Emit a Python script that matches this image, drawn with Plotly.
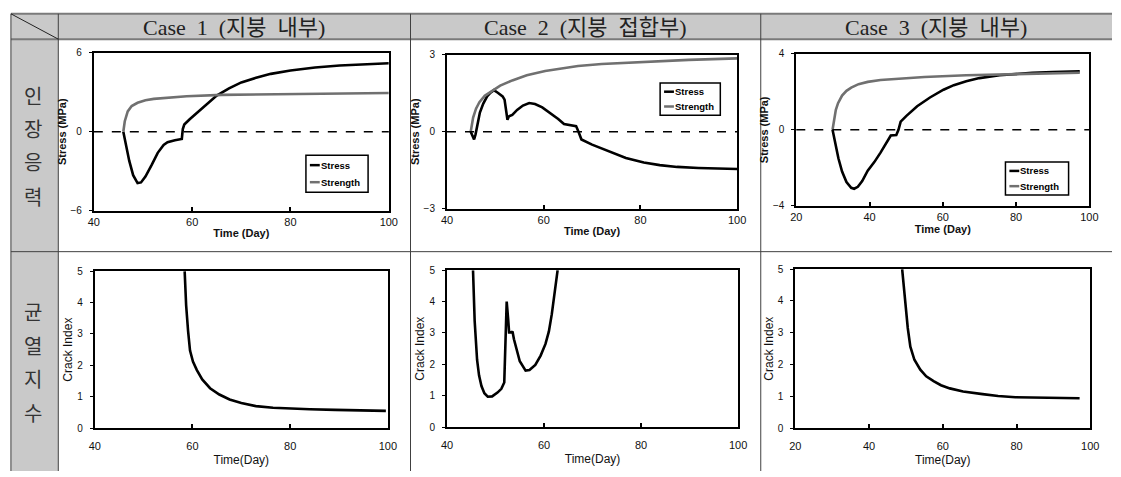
import plotly.graph_objects as go

W, H = 1121, 477

# ---------------- data ----------------
NB = "\u00a0"
case_titles = [f"Case{NB}{NB}1{NB}{NB}(지붕{NB}{NB}내부)",
               f"Case{NB}{NB}2{NB}{NB}(지붕{NB}{NB}접합부)",
               f"Case{NB}{NB}3{NB}{NB}(지붕{NB}{NB}내부)"]
row_labels = ["인장응력", "균열지수"]

c1_stress_day = [46.0, 46.5, 47.2, 48.0, 48.9, 49.6, 50.5, 51.8, 53.0, 54.2, 55.0, 56.5, 57.9, 58.1, 58.4,
                 59.5, 61.0, 63.0, 65.0, 67.5, 70.0, 73.0, 76.0, 80.0, 85.0, 90.0, 95.0, 100.0]
c1_stress_val = [0.0, -0.9, -2.2, -3.3, -3.9, -3.85, -3.4, -2.5, -1.6, -1.0, -0.8, -0.65, -0.55, 0.2, 0.55,
                 0.95, 1.45, 2.15, 2.75, 3.3, 3.75, 4.1, 4.4, 4.65, 4.88, 5.03, 5.14, 5.21]
c1_strength_day = [46.0, 46.3, 46.9, 47.7, 48.9, 50.5, 52.2, 55.0, 58.9, 66.0, 75.0, 85.0, 100.0]
c1_strength_val = [0.0, 0.8, 1.55, 1.95, 2.2, 2.4, 2.5, 2.6, 2.7, 2.8, 2.85, 2.9, 2.94]

c2_stress_day = [44.9, 45.3, 45.6, 45.9, 46.3, 46.8, 47.5, 48.3, 49.0, 49.7, 50.5, 51.5, 51.9, 52.2, 52.5,
                 52.8, 53.5, 54.5, 55.7, 57.0, 58.2, 59.7, 61.5, 63.0, 64.2, 65.5, 66.7, 67.2, 67.8, 70.0,
                 73.9, 77.0, 80.7, 84.0, 87.6, 92.0, 100.0]
c2_stress_val = [0.0, -0.2, -0.3, -0.1, 0.35, 0.75, 1.1, 1.38, 1.52, 1.62, 1.52, 1.38, 1.25, 0.9, 0.47,
                 0.6, 0.66, 0.85, 1.02, 1.12, 1.08, 0.95, 0.72, 0.5, 0.3, 0.25, 0.22, 0.0, -0.3, -0.5,
                 -0.8, -1.02, -1.2, -1.3, -1.37, -1.41, -1.45]
c2_strength_day = [44.9, 45.4, 46.0, 46.7, 47.8, 49.4, 51.0, 53.5, 56.5, 60.3, 64.0, 67.1, 72.0, 80.7, 90.0, 100.0]
c2_strength_val = [0.0, 0.55, 0.9, 1.15, 1.4, 1.6, 1.8, 2.0, 2.2, 2.37, 2.48, 2.56, 2.64, 2.73, 2.8, 2.86]

c3_stress_day = [29.9, 30.5, 31.5, 32.5, 33.7, 35.0, 35.8, 36.8, 38.0, 39.5, 41.3, 43.0, 44.5, 45.8, 47.3,
                 47.9, 48.5, 50.0, 53.0, 56.5, 60.2, 63.0, 66.4, 70.0, 75.5, 80.0, 84.4, 90.0, 97.4]
c3_stress_val = [0.0, -0.6, -1.5, -2.2, -2.75, -3.05, -3.1, -3.0, -2.7, -2.15, -1.7, -1.2, -0.75, -0.3, -0.27,
                 0.0, 0.43, 0.72, 1.24, 1.7, 2.11, 2.35, 2.55, 2.72, 2.87, 2.95, 3.0, 3.04, 3.08]
c3_strength_day = [29.9, 30.3, 30.8, 31.4, 32.5, 33.7, 35.0, 37.0, 39.5, 43.0, 48.5, 55.0, 66.4, 80.0, 97.4]
c3_strength_val = [0.0, 0.6, 1.05, 1.4, 1.8, 2.05, 2.22, 2.4, 2.52, 2.62, 2.71, 2.78, 2.87, 2.94, 3.0]

c1_crack_day = [58.4, 58.7, 59.1, 59.5, 60.1, 60.9, 62.0, 63.6, 65.5, 67.6, 70.0, 73.0, 76.5, 79.7,
                84.0, 89.2, 95.0, 99.6]
c1_crack_val = [5.0, 3.92, 3.1, 2.47, 2.12, 1.85, 1.55, 1.27, 1.07, 0.91, 0.8, 0.7, 0.65, 0.62,
                0.6, 0.58, 0.56, 0.55]

c2_crack_day = [45.36, 45.7, 46.2, 46.6, 47.1, 47.7, 48.4, 49.3, 50.4, 51.2, 51.8, 52.0, 52.3, 52.6, 52.8,
                53.3, 53.5, 53.8, 54.2, 55.0, 56.2, 57.0, 58.2, 59.3, 60.3, 61.0, 61.6, 62.2, 62.8]
c2_crack_val = [5.0, 3.38, 2.14, 1.65, 1.31, 1.08, 0.97, 0.98, 1.1, 1.22, 1.42, 2.6, 4.0, 3.45, 3.02,
                3.02, 3.05, 2.8, 2.55, 2.1, 1.8, 1.82, 1.98, 2.28, 2.65, 3.05, 3.6, 4.35, 5.0]

c3_crack_day = [48.98, 49.9, 50.5, 51.2, 52.3, 53.9, 55.5, 57.5, 59.5, 61.9, 65.5, 70.8, 75.0, 79.7, 88.0, 97.1]
c3_crack_val = [5.0, 3.88, 3.15, 2.56, 2.15, 1.84, 1.63, 1.48, 1.35, 1.25, 1.15, 1.07, 1.01, 0.97, 0.95, 0.94]

stress_series = [(c1_stress_day, c1_stress_val, c1_strength_day, c1_strength_val),
                 (c2_stress_day, c2_stress_val, c2_strength_day, c2_strength_val),
                 (c3_stress_day, c3_stress_val, c3_strength_day, c3_strength_val)]
crack_series = [(c1_crack_day, c1_crack_val), (c2_crack_day, c2_crack_val), (c3_crack_day, c3_crack_val)]

stress_ranges = [[-6, 6], [-3, 3], [-4, 4]]
x_ranges = [[40, 100], [40, 100], [20, 100]]

# ---------------- layout geometry (pixels) ----------------
plot_boxes = [  # x0, x1, y0(top), y1(bottom)
    (89, 388, 48, 210), (447, 741, 50, 208), (801, 1098, 49, 205),
    (90, 387, 272, 433), (447, 742, 271, 432), (800, 1099, 270, 433),
]
legend_boxes = [(304, 367, 153, 191), (663, 724, 79, 112), (1013, 1077, 160, 194)]

def px(x):
    return x / W

def py(y):
    return 1 - y / H

BLACK = "#000000"
GRAY = "#707070"
SANS = "Liberation Sans, Arial, sans-serif"
SERIF = "Liberation Serif, Noto Sans CJK KR, serif"

fig = go.Figure()

for i, (sd, sv, gd, gv) in enumerate(stress_series):
    ax = "" if i == 0 else str(i + 1)
    fig.add_trace(go.Scatter(x=sd, y=sv, mode="lines", name="Stress",
                             line=dict(color=BLACK, width=2.6), xaxis="x" + ax, yaxis="y" + ax,
                             showlegend=False))
    fig.add_trace(go.Scatter(x=gd, y=gv, mode="lines", name="Strength",
                             line=dict(color=GRAY, width=2.6), xaxis="x" + ax, yaxis="y" + ax,
                             showlegend=False))
for i, (cd, cv) in enumerate(crack_series):
    ax = str(i + 4)
    fig.add_trace(go.Scatter(x=cd, y=cv, mode="lines", name="Crack Index",
                             line=dict(color=BLACK, width=2.6), xaxis="x" + ax, yaxis="y" + ax,
                             showlegend=False))

layout = dict(width=W, height=H, margin=dict(l=0, r=0, t=0, b=0),
              paper_bgcolor="white", plot_bgcolor="white", showlegend=False)

for i, (x0, x1, y0, y1) in enumerate(plot_boxes):
    k = i + 1
    xname = "xaxis" if k == 1 else f"xaxis{k}"
    yname = "yaxis" if k == 1 else f"yaxis{k}"
    top = i < 3
    xr = x_ranges[i % 3]
    yr = stress_ranges[i] if top else [0, 5]
    layout[xname] = dict(
        domain=[px(x0), px(x1)], anchor="y" if k == 1 else f"y{k}",
        range=xr, tickvals=list(range(xr[0], xr[1] + 1, 20)),
        showline=True, mirror=True, linecolor=BLACK, linewidth=2,
        showgrid=False, zeroline=False, ticks="inside", ticklen=4, tickcolor=BLACK, tickwidth=1.5,
        tickfont=dict(family=SANS, size=11, color="#111"),
        ticklabelstandoff=0 if top else 7,
        title=dict(text="<b>Time (Day)</b>" if top else "Time(Day)",
                   font=dict(family=SANS, size=11 if top else 12, color="#111"),
                   standoff=2 if top else 4),
    )
    layout[yname] = dict(
        domain=[py(y1), py(y0)], anchor="x" if k == 1 else f"x{k}",
        range=yr, tickvals=[yr[0], 0, yr[1]] if top else [0, 1, 2, 3, 4, 5],
        showline=True, mirror=True, linecolor=BLACK, linewidth=2,
        showgrid=False, zeroline=False, ticks="outside", ticklen=3, tickcolor=BLACK, tickwidth=1,
        tickfont=dict(family=SANS, size=10, color="#111"),
        ticklabelstandoff=5,
        title=dict(text="<b>Stress (MPa)</b>" if top else "Crack Index",
                   font=dict(family=SANS, size=11 if top else 12, color="#111"), standoff=2),
    )

shapes = []
shapes.append(dict(type="rect", xref="paper", yref="paper", x0=px(5), x1=px(1121), y0=py(34), y1=py(8),
                   fillcolor="#c9c9c9", line=dict(width=0), layer="below"))
shapes.append(dict(type="rect", xref="paper", yref="paper", x0=px(5), x1=px(53), y0=py(477), y1=py(34),
                   fillcolor="#c9c9c9", line=dict(width=0), layer="below"))
for yy in (8, 34):
    shapes.append(dict(type="line", xref="paper", yref="paper", x0=px(5), x1=px(1121), y0=py(yy), y1=py(yy),
                       line=dict(color="#7a7a7a", width=2)))
shapes.append(dict(type="line", xref="paper", yref="paper", x0=px(5), x1=px(1121), y0=py(252), y1=py(252),
                   line=dict(color="#404040", width=1)))
for xx in (5, 53, 410, 765):
    shapes.append(dict(type="line", xref="paper", yref="paper", x0=px(xx), x1=px(xx), y0=py(8), y1=py(477),
                       line=dict(color="#404040", width=1)))
shapes.append(dict(type="line", xref="paper", yref="paper", x0=px(5), x1=px(53), y0=py(8), y1=py(34),
                   line=dict(color="#222", width=1)))
for i in range(3):
    ax = "" if i == 0 else str(i + 1)
    shapes.append(dict(type="line", xref=f"x{ax} domain", yref=f"y{ax}", x0=0, x1=1, y0=0, y1=0,
                       line=dict(color=BLACK, width=1.5, dash="dash")))
annotations = []
for (lx0, lx1, ly0, ly1) in legend_boxes:
    shapes.append(dict(type="rect", xref="paper", yref="paper", x0=px(lx0), x1=px(lx1), y0=py(ly1), y1=py(ly0),
                       fillcolor="white", line=dict(color=BLACK, width=1.5)))
    hgt = ly1 - ly0
    for j, (nm, col) in enumerate([("Stress", BLACK), ("Strength", GRAY)]):
        yy = ly0 + hgt * (0.27 + 0.46 * j)
        shapes.append(dict(type="line", xref="paper", yref="paper", x0=px(lx0 + 4), x1=px(lx0 + 14),
                           y0=py(yy), y1=py(yy), line=dict(color=col, width=2.5)))
        annotations.append(dict(xref="paper", yref="paper", x=px(lx0 + 13), y=py(yy), text=f"<b>{nm}</b>",
                                showarrow=False, xanchor="left", yanchor="middle",
                                font=dict(family=SANS, size=9.5, color=BLACK)))

col_centers = [(53 + 410) / 2, (410 + 765) / 2, (765 + 1121) / 2]
for cx, t in zip(col_centers, case_titles):
    annotations.append(dict(xref="paper", yref="paper", x=px(cx), y=py(22), text=t, showarrow=False,
                            xanchor="center", yanchor="middle",
                            font=dict(family=SERIF, size=22, color="#222")))
row_char_y = [[92, 126, 160, 195], [313, 348, 382, 417]]
for lab, ys in zip(row_labels, row_char_y):
    for ch, yy in zip(lab, ys):
        annotations.append(dict(xref="paper", yref="paper", x=px(27), y=py(yy), text=ch, showarrow=False,
                                xanchor="center", yanchor="middle",
                                font=dict(family="Noto Sans CJK KR", size=20, color="#333")))

layout["shapes"] = shapes
layout["annotations"] = annotations
fig.update_layout(**layout)

fig.write_html("out.html")
